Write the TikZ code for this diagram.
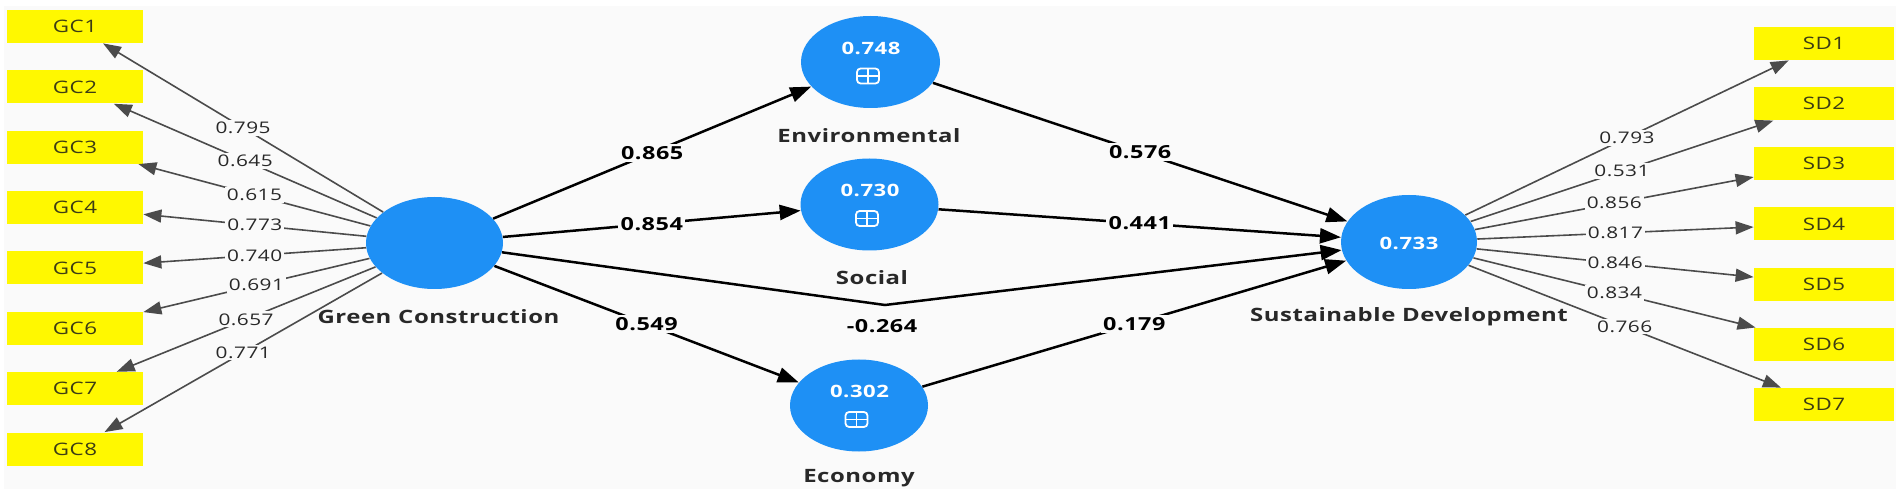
\documentclass[tikz,border=0pt]{standalone}
\usepackage{fontspec}
\setmainfont{Open Sans}
\newfontfamily\wfont[FakeStretch=1.3,LetterSpace=3]{Open Sans}
\usetikzlibrary{arrows.meta,shapes.geometric}
\definecolor{bgc}{RGB}{250,250,250}
\definecolor{lvblue}{RGB}{30,144,245}
\definecolor{mvyellow}{RGB}{255,248,0}
\definecolor{loadgray}{RGB}{75,75,75}
\definecolor{txtdark}{RGB}{40,40,40}
\definecolor{boxtxt}{RGB}{60,60,20}
\tikzset{
  mvbox/.style={rectangle, fill=mvyellow, minimum width=68pt, minimum height=16.5pt, inner sep=0pt,
    font=\wfont\fontsize{8.6pt}{10pt}\selectfont, text=boxtxt},
  lv/.style={ellipse, fill=lvblue, inner sep=0pt, minimum width=68.5pt, minimum height=46pt},
  lvname/.style={font=\wfont\fontsize{9.2pt}{11pt}\selectfont\bfseries, text=txtdark, inner sep=0pt},
  lvval/.style={font=\wfont\fontsize{8.5pt}{10pt}\selectfont\bfseries, text=white, inner sep=0pt},
  loadline/.style={draw=loadgray, line width=0.8pt, -{Triangle[length=9pt,width=6.5pt]}},
  structline/.style={draw=black, line width=1.25pt, -{Triangle[length=10.5pt,width=7.5pt]}},
  lab/.style={font=\wfont\fontsize{8pt}{9pt}\selectfont, text=txtdark, fill=bgc, inner sep=1pt},
  slab/.style={font=\wfont\fontsize{9pt}{10pt}\selectfont\bfseries, text=black, fill=bgc, inner sep=1.2pt},
  plusicon/.pic={
    \draw[white, line width=0.9pt, rounded corners=1.8pt] (-11,-7.5) rectangle (11,7.5);
    \draw[white, line width=0.9pt] (-11,0) -- (11,0) (0,-7.5) -- (0,7.5);
  }
}
\begin{document}
\begin{tikzpicture}[x=0.5pt,y=-0.5pt]
\useasboundingbox (0,0) rectangle (1902,497);
\fill[bgc] (4,6) rectangle (1896,489);

% indicator boxes, Green Construction
\foreach \i/\yy in {1/26.5,2/86.9,3/147.2,4/207.6,5/267.9,6/328.3,7/388.7,8/449}{
  \node[mvbox] (gc\i) at (75,\yy) {GC\i};
}
% indicator boxes, Sustainable Development
\foreach \i/\yy in {1/43.5,2/103.7,3/163.8,4/224,5/284.2,6/344.4,7/404.5}{
  \node[mvbox, minimum width=70pt] (sd\i) at (1824,\yy) {SD\i};
}

% latent variables
\node[lv] (gc) at (434.5,243) {};
\node[lv, minimum width=69.5pt] (env) at (870.5,62) {};
\node[lv, minimum width=69pt] (soc) at (869.5,204.5) {};
\node[lv, minimum width=69pt] (eco) at (859,405.5) {};
\node[lv, minimum width=68pt, minimum height=47pt] (sd) at (1409,242) {};

% values and icons inside the latent variables
\node[lvval] (envv) at (871,48.5) {0.748};
\pic at (868,76) {plusicon};
\node[lvval] (socv) at (870,190.5) {0.730};
\pic at (867,218.5) {plusicon};
\node[lvval] (ecov) at (859.5,391.5) {0.302};
\pic at (856.5,419.5) {plusicon};
\node[lvval] (sdv) at (1409,243) {0.733};

% latent names
\node[lvname] (gcn) at (438.5,317) {Green Construction};
\node[lvname] (envn) at (869,136) {Environmental};
\node[lvname] (socn) at (872,278) {Social};
\node[lvname] (econ) at (859,478) {Economy};
\node[lvname] (sdn) at (1409,317) {Sustainable Development};

% outer loadings
\draw[loadline] (gc) -- node[lab] {0.795} (gc1);
\draw[loadline] (gc) -- node[lab] {0.645} (gc2);
\draw[loadline] (gc) -- node[lab] {0.615} (gc3);
\draw[loadline] (gc) -- node[lab] {0.773} (gc4);
\draw[loadline] (gc) -- node[lab] {0.740} (gc5);
\draw[loadline] (gc) -- node[lab] {0.691} (gc6);
\draw[loadline] (gc) -- node[lab] {0.657} (gc7);
\draw[loadline] (gc) -- node[lab] {0.771} (gc8);

\draw[loadline] (sd) -- node[lab] {0.793} (sd1);
\draw[loadline] (sd) -- node[lab] {0.531} (sd2);
\draw[loadline] (sd) -- node[lab] {0.856} (sd3);
\draw[loadline] (sd) -- node[lab] {0.817} (sd4);
\draw[loadline] (sd) -- node[lab] {0.846} (sd5);
\draw[loadline] (sd) -- node[lab] {0.834} (sd6);
\draw[loadline] (sd) -- node[lab] {0.766} (sd7);

% structural paths
\draw[structline] (gc) -- node[slab] {0.865} (env);
\draw[structline] (gc) -- node[slab] {0.854} (soc);
\draw[structline] (gc) -- node[slab] {0.549} (eco);
\draw[structline] (env) -- node[slab] {0.576} (sd);
\draw[structline] (soc) -- node[slab] {0.441} (sd);
\draw[structline] (eco) -- node[slab] {0.179} (sd);
\coordinate (kink) at (885,305);
\draw[structline] (gc) -- (kink) -- (sd);
\node[slab, fill=none] (dl) at (882,326) {-0.264};
\end{tikzpicture}
\end{document}
